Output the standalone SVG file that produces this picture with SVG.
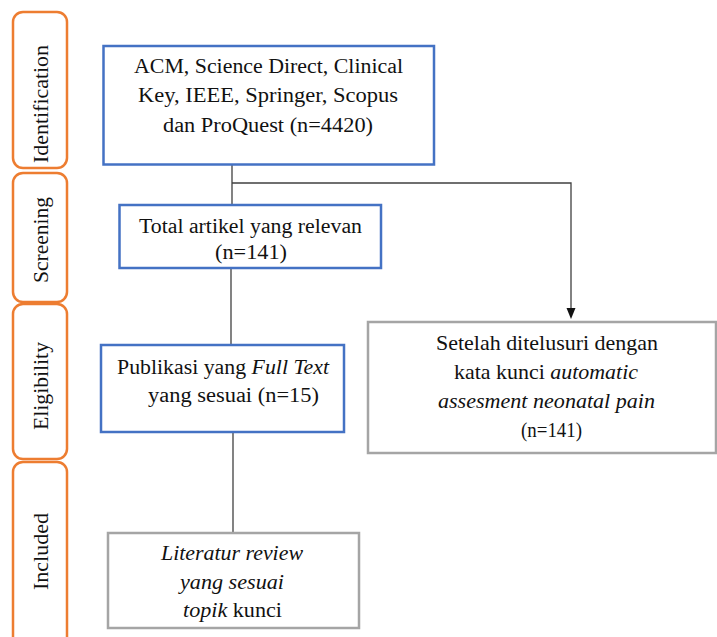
<svg xmlns="http://www.w3.org/2000/svg" width="717" height="637" viewBox="0 0 717 637">
<style>
.phase{fill:#fff;stroke:#ED7D31;stroke-width:2.5}
.blue{fill:#fff;stroke:#4472C4;stroke-width:2.5}
.gray{fill:#fff;stroke:#A5A5A5;stroke-width:2.5}
text{font-family:"Liberation Serif","Times New Roman",serif;font-size:20px;fill:#111}
.pl{font-size:21px;text-anchor:middle}
.c{text-anchor:middle}
.it{font-style:italic}
.conn{fill:none;stroke:#404040;stroke-width:1.3}
</style>
<defs>
<marker id="arr" markerWidth="10" markerHeight="11" refX="5" refY="0" orient="auto" markerUnits="userSpaceOnUse" viewBox="-5 -11 10 11">
<path d="M-4.5,-11 L4.5,-11 L0,0 Z" fill="#111" transform="rotate(-90)"/>
</marker>
</defs>
<rect width="717" height="637" fill="#fff"/>
<g id="phase-identification">
<rect class="phase" x="13" y="12" width="54" height="156" rx="10"/>
<text class="pl" transform="translate(47.5,104) rotate(-90)" textLength="118" lengthAdjust="spacingAndGlyphs">Identification</text>
</g>
<g id="phase-screening">
<rect class="phase" x="13" y="173" width="54" height="129" rx="10"/>
<text class="pl" transform="translate(47.5,240) rotate(-90)" textLength="86" lengthAdjust="spacingAndGlyphs">Screening</text>
</g>
<g id="phase-eligibility">
<rect class="phase" x="13" y="304" width="54" height="155" rx="10"/>
<text class="pl" transform="translate(47.5,386) rotate(-90)" textLength="88" lengthAdjust="spacingAndGlyphs">Eligibility</text>
</g>
<g id="phase-included">
<rect class="phase" x="13" y="462" width="54" height="195" rx="10"/>
<text class="pl" transform="translate(47.5,551.5) rotate(-90)" textLength="77" lengthAdjust="spacingAndGlyphs">Included</text>
</g>
<g id="connectors">
<path class="conn" d="M232,165 V205"/>
<path class="conn" d="M232,183 H571 V308"/>
<path d="M566.5,308 L575.5,308 L571,319 Z" fill="#111"/>
<path class="conn" d="M231,268 V345"/>
<path class="conn" d="M233,432 V533"/>
</g>
<g id="node-identification">
<rect class="blue" x="103.5" y="46" width="330.5" height="118.5"/>
<text class="c" x="268.5" y="73" textLength="269" lengthAdjust="spacingAndGlyphs">ACM, Science Direct, Clinical</text>
<text class="c" x="268" y="102" textLength="260" lengthAdjust="spacingAndGlyphs">Key, IEEE, Springer, Scopus</text>
<text class="c" x="268" y="132" textLength="210" lengthAdjust="spacingAndGlyphs">dan ProQuest (n=4420)</text>
</g>
<g id="node-screening">
<rect class="blue" x="119.5" y="205" width="261.5" height="63"/>
<text class="c" x="250.5" y="233" textLength="223" lengthAdjust="spacingAndGlyphs">Total artikel yang relevan</text>
<text class="c" x="251" y="259" textLength="72" lengthAdjust="spacingAndGlyphs">(n=141)</text>
</g>
<g id="node-eligibility">
<rect class="blue" x="101" y="345" width="243" height="87"/>
<text x="117" y="374" textLength="212" lengthAdjust="spacingAndGlyphs">Publikasi yang <tspan class="it">Full Text</tspan></text>
<text x="148" y="402" textLength="171" lengthAdjust="spacingAndGlyphs">yang sesuai (n=15)</text>
</g>
<g id="node-excluded">
<rect class="gray" x="368" y="322" width="348" height="131"/>
<text class="c" x="547" y="350" textLength="222" lengthAdjust="spacingAndGlyphs" style="font-size:21px">Setelah ditelusuri dengan</text>
<text class="c" x="546" y="379" textLength="184" lengthAdjust="spacingAndGlyphs" style="font-size:21px">kata kunci <tspan class="it">automatic</tspan></text>
<text class="c it" x="546.5" y="408" textLength="217" lengthAdjust="spacingAndGlyphs" style="font-size:21px">assesment neonatal pain</text>
<text class="c" x="551.5" y="437" textLength="61" lengthAdjust="spacingAndGlyphs" style="font-size:21px">(n=141)</text>
</g>
<g id="node-included">
<rect class="gray" x="108" y="533" width="251" height="95"/>
<text class="c it" x="232" y="560" textLength="142" lengthAdjust="spacingAndGlyphs">Literatur review</text>
<text class="c it" x="232" y="589" textLength="104" lengthAdjust="spacingAndGlyphs">yang sesuai</text>
<text class="c" x="232.5" y="617" textLength="99" lengthAdjust="spacingAndGlyphs"><tspan class="it">topik</tspan> kunci</text>
</g>
</svg>
